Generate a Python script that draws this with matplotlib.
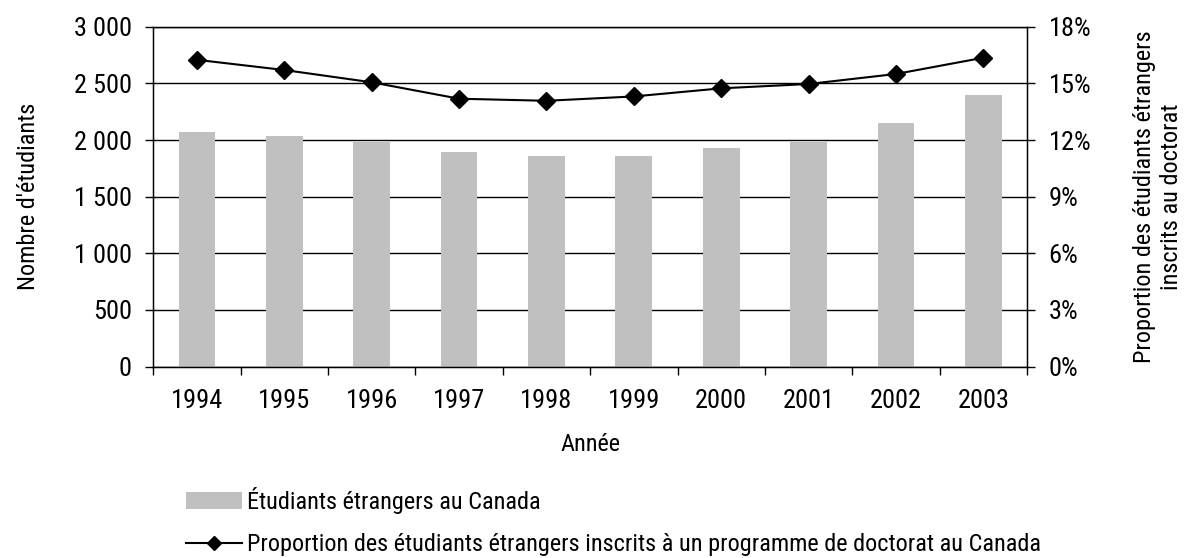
import matplotlib.pyplot as plt
import matplotlib.ticker as mticker
from matplotlib.patches import Patch
from matplotlib.lines import Line2D
import numpy as np

plt.rcParams['font.family'] = ['Liberation Sans Narrow', 'Roboto Condensed', 'PT Sans Narrow',
                               'Archivo Narrow', 'DejaVu Sans']

# Data
years = ['1994', '1995', '1996', '1997', '1998', '1999', '2000', '2001', '2002', '2003']
students = [2070, 2035, 1982, 1895, 1860, 1860, 1930, 1982, 2150, 2397]
phd_share = [16.25, 15.71, 15.06, 14.19, 14.08, 14.31, 14.74, 14.97, 15.50, 16.36]

fig = plt.figure(figsize=(11.88, 5.58), dpi=100)
ax = fig.add_axes([0.129, 0.343, 0.7355, 0.609])
x = np.arange(len(years))

# bars for number of students (left axis)
ax.bar(x, students, width=0.42, color='#c0c0c0', zorder=2)
ax.set_xlim(-0.5, len(years) - 0.5)
ax.set_ylim(0, 3000)
ax.set_yticks(range(0, 3001, 500))
ax.yaxis.set_major_formatter(mticker.FuncFormatter(lambda v, p: f"{int(v):,}".replace(',', ' ')))
ax.grid(axis='y', color='black', linewidth=1.0, zorder=1)
ax.set_axisbelow(True)

ax.set_xticks(x)
ax.set_xticklabels(years)
ax.set_xticks(np.arange(-0.5, len(years)), minor=True)
ax.tick_params(axis='x', which='major', length=0, pad=16, labelsize=19)
ax.tick_params(axis='x', which='minor', length=5.5, width=1)
ax.tick_params(axis='y', length=5.5, width=1, pad=10, labelsize=19)
ax.set_xlabel('Année', fontsize=17.5, va='top')
ax.xaxis.set_label_coords(0.5, -0.196)
ax.set_ylabel("Nombre d'étudiants", fontsize=17.5)
ax.yaxis.set_label_coords(-0.13, 0.5)
for s in ax.spines.values():
    s.set_linewidth(1.0)

# line for the PhD share (right axis)
ax2 = ax.twinx()
ax2.plot(x, phd_share, color='black', linewidth=1.5, marker='D', markersize=9.5, zorder=3)
ax2.set_ylim(0, 18)
ax2.set_yticks(range(0, 19, 3))
ax2.yaxis.set_major_formatter(mticker.FuncFormatter(lambda v, p: f"{int(v)}%"))
ax2.tick_params(axis='y', length=5.5, width=1, pad=10, labelsize=19)
ax2.set_ylabel('Proportion des étudiants étrangers\ninscrits au doctorat', fontsize=17.5,
               linespacing=1.25)
ax2.yaxis.set_label_coords(1.121, 0.5)

handles = [Patch(facecolor='#c0c0c0', edgecolor='none'),
           Line2D([], [], color='black', linewidth=1.5, marker='D', markersize=7)]
labels = ['Étudiants étrangers au Canada',
          'Proportion des étudiants étrangers inscrits à un programme de doctorat au Canada']
fig.legend(handles, labels, loc='upper left', bbox_to_anchor=(186 / 1188, 0.128),
           frameon=False, fontsize=17.5, handlelength=2.3, handletextpad=0.2,
           labelspacing=0.8, borderaxespad=0, borderpad=0)

fig.savefig('out.png', dpi=100)
